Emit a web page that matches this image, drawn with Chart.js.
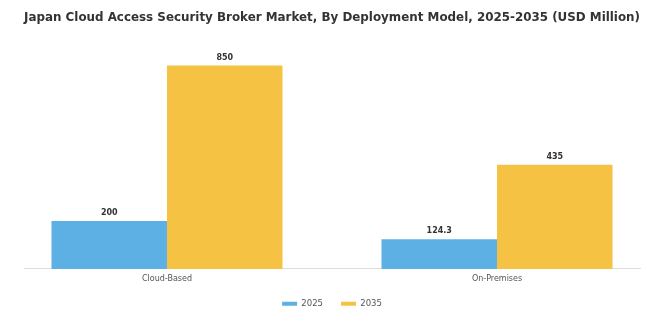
<!DOCTYPE html>
<html>
<head>
<meta charset="utf-8">
<script src="https://cdn.jsdelivr.net/npm/chart.js@4.4.0/dist/chart.umd.min.js"></script>
<style>
html,body{margin:0;padding:0;background:#fff;}
#wrap{width:658px;height:333px;}
</style>
</head>
<body>
<div id="wrap"><canvas id="c" width="658" height="333"></canvas></div>
<script>
const titleText = "Japan Cloud Access Security Broker Market, By Deployment Model, 2025-2035 (USD Million)";
const categories = ["Cloud-Based", "On-Premises"];
const seriesNames = ["2025", "2035"];
const values2025 = [200, 124.3];
const values2035 = [850, 435];
const valueLabels2025 = ["200", "124.3"];
const valueLabels2035 = ["850", "435"];
const colors = ["#5DB0E4", "#F6C244"];

const toPoints = arr => arr.map((v, i) => ({x: i, y: v}));

const valueLabelPlugin = {
  id: 'valueLabels',
  afterDatasetsDraw(chart) {
    const ctx = chart.ctx;
    const labelSets = [valueLabels2025, valueLabels2035];
    ctx.save();
    ctx.font = "bold 8px 'DejaVu Sans'";
    ctx.fillStyle = "#333";
    ctx.textAlign = "center";
    ctx.textBaseline = "bottom";
    chart.data.datasets.forEach((ds, di) => {
      const meta = chart.getDatasetMeta(di);
      meta.data.forEach((bar, i) => {
        ctx.fillText(labelSets[di][i], bar.x, bar.y - 4);
      });
    });
    ctx.restore();
  }
};

new Chart(document.getElementById('c'), {
  type: 'bar',
  data: {
    datasets: [
      {label: seriesNames[0], data: toPoints(values2025), backgroundColor: colors[0], borderWidth: 0},
      {label: seriesNames[1], data: toPoints(values2035), backgroundColor: colors[1], borderWidth: 0}
    ]
  },
  options: {
    responsive: false,
    animation: false,
    devicePixelRatio: 1,
    layout: {padding: {left: 24, right: 18, top: 0, bottom: 15}},
    datasets: {bar: {categoryPercentage: 0.7, barPercentage: 1.0}},
    scales: {
      x: {
        type: 'linear',
        offset: false,
        min: -0.4333,
        max: 1.4333,
        grid: {display: false, drawTicks: false},
        border: {display: true, color: '#dddddd', width: 1},
        afterBuildTicks: (scale) => { scale.ticks = categories.map((c, i) => ({value: i})); },
        afterFit: (scale) => { scale.height -= 7; },
        ticks: {
          callback: (v) => categories[v],
          color: '#555',
          font: {family: "'DejaVu Sans'", size: 8},
          padding: 5,
          maxRotation: 0,
          autoSkip: false
        }
      },
      y: {
        display: false,
        min: 0,
        max: 985
      }
    },
    plugins: {
      title: {
        display: true,
        text: titleText,
        color: '#333',
        font: {family: "'DejaVu Sans'", size: 11.9, weight: 'bold'},
        padding: {top: 11, bottom: 8}
      },
      legend: {
        display: true,
        position: 'bottom',
        labels: {
          boxWidth: 15,
          boxHeight: 4,
          color: '#555',
          font: {family: "'DejaVu Sans'", size: 8.5},
          padding: 18
        }
      },
      tooltip: {enabled: false}
    }
  },
  plugins: [valueLabelPlugin]
});
</script>
</body>
</html>
